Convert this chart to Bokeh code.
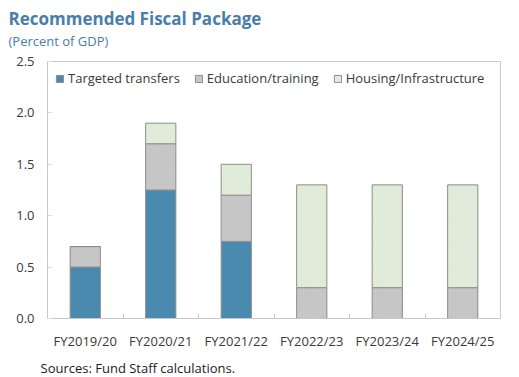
from bokeh.plotting import figure
from bokeh.models import ColumnDataSource, FixedTicker, Title, Legend, LegendItem
from bokeh.embed import file_html
from bokeh.resources import INLINE

categories = ["FY2019/20", "FY2020/21", "FY2021/22", "FY2022/23", "FY2023/24", "FY2024/25"]
targeted_transfers = [0.5, 1.25, 0.75, 0.0, 0.0, 0.0]
education_training = [0.2, 0.45, 0.45, 0.3, 0.3, 0.3]
housing_infrastructure = [0.0, 0.2, 0.3, 1.0, 1.0, 1.0]
series_names = ["Targeted transfers", "Education/training", "Housing/Infrastructure"]
y_ticks = [0.0, 0.5, 1.0, 1.5, 2.0, 2.5]

FONT = "Open Sans"
TXT = "#3a3a3a"

xpos = [i + 0.5 for i in range(len(categories))]
src = ColumnDataSource(dict(x=xpos, t=targeted_transfers, e=education_training, h=housing_infrastructure))

p = figure(width=519, height=377, x_range=(0, len(categories)), y_range=(0, 2.5),
           output_backend="svg", toolbar_location=None,
           min_border_left=47, min_border_right=19, min_border_top=61, min_border_bottom=59)
p.title.visible = False
p.grid.visible = False
p.outline_line_color = "#c8c8c8"
p.outline_line_width = 1
p.background_fill_color = "white"
p.border_fill_color = "white"

renderers = p.vbar_stack(["t", "e", "h"], x="x", width=0.4, source=src,
                         fill_color=["#4a8aae", "#cbcbcb", "#e3eedc"],
                         line_color="#8c8c8c", line_width=1)
renderers[1].glyph.hatch_pattern = "right_diagonal_line"
renderers[1].glyph.hatch_color = "#b8b8b8"
renderers[1].glyph.hatch_scale = 3
renderers[1].glyph.hatch_weight = 0.5
renderers[2].glyph.hatch_pattern = "right_diagonal_line"
renderers[2].glyph.hatch_color = "#d6e4ce"
renderers[2].glyph.hatch_scale = 3
renderers[2].glyph.hatch_weight = 0.5

legend = Legend(items=[LegendItem(label=n, renderers=[r]) for n, r in zip(series_names, renderers)],
                orientation="horizontal", location="top_left",
                glyph_width=9, glyph_height=9, label_text_font=FONT, label_text_font_size="13px",
                label_text_color=TXT, border_line_color=None, background_fill_alpha=0,
                spacing=14, padding=0, margin=8, label_standoff=4, label_height=9)
p.add_layout(legend)

xa = p.xaxis[0]
xa.ticker = FixedTicker(ticks=xpos, minor_ticks=list(range(1, len(categories))))
xa.major_label_overrides = {x: c for x, c in zip(xpos, categories)}
xa.major_tick_in = 0
xa.major_tick_out = 0
xa.minor_tick_in = 5
xa.minor_tick_out = 0
xa.minor_tick_line_color = "#c8c8c8"
xa.axis_line_color = "#c8c8c8"
xa.major_label_text_font = FONT
xa.major_label_text_font_size = "13px"
xa.major_label_text_color = TXT
xa.major_label_standoff = 13

ya = p.yaxis[0]
ya.ticker = FixedTicker(ticks=y_ticks)
ya.major_label_overrides = {v: f"{v:.1f}" for v in y_ticks}
ya.major_tick_in = 5
ya.major_tick_out = 0
ya.major_tick_line_color = "#e0e0e0"
ya.minor_tick_line_color = None
ya.axis_line_color = "#c8c8c8"
ya.major_label_text_font = FONT
ya.major_label_text_font_size = "13px"
ya.major_label_text_color = TXT
ya.major_label_standoff = 13

sub = Title(text="(Percent of GDP)", align="left", offset=-39, standoff=0,
            padding=dict(left=0, right=0, top=0, bottom=12),
            text_font=FONT, text_font_size="13px", text_font_style="normal", text_color="#4a7eaa")
p.add_layout(sub, "above")
main = Title(text="Recommended Fiscal Package", align="left", offset=-39, standoff=0,
             text_font=FONT, text_font_size="17px", text_font_style="bold", text_color="#4a7eaa")
p.add_layout(main, "above")
src_note = Title(text="Sources: Fund Staff calculations.", align="left", offset=-7, standoff=0,
                 padding=dict(left=0, right=0, top=4, bottom=0),
                 text_font=FONT, text_font_size="13px", text_font_style="normal", text_color="#1a1a1a")
p.add_layout(src_note, "below")

open("out.html", "w").write(file_html(p, INLINE))
